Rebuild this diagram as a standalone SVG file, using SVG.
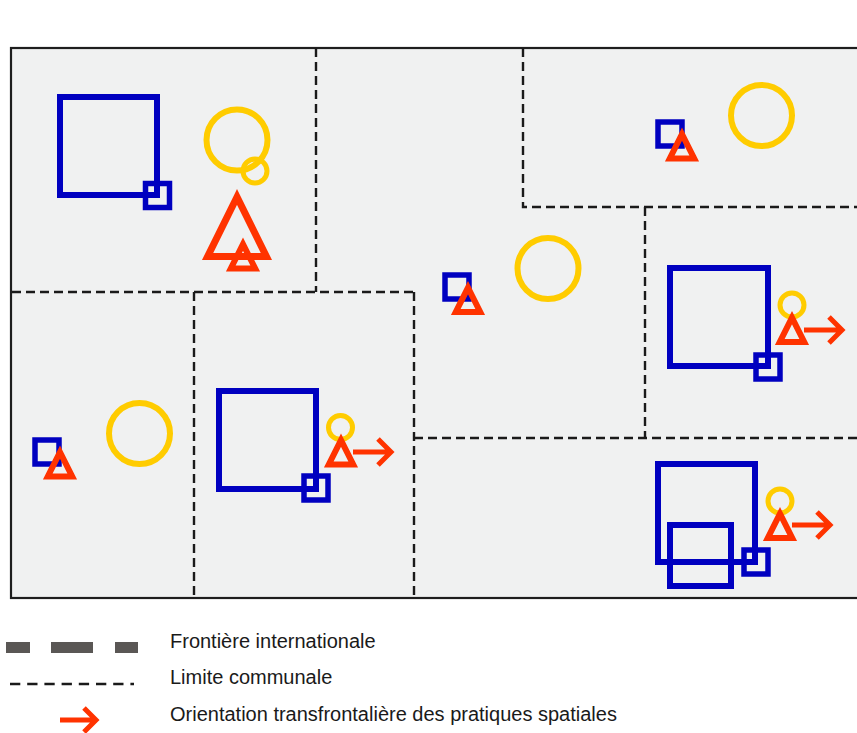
<svg xmlns="http://www.w3.org/2000/svg" width="857" height="733" viewBox="0 0 857 733">
<style>
.bg{fill:#ffffff}
.frame{fill:#f0f1f1;stroke:#1e1e1e;stroke-width:2.2}
.lim{fill:none;stroke:#1a1a1a;stroke-width:2.4;stroke-dasharray:9 5}
.sqb{fill:none;stroke:#0000c0;stroke-width:6}
.sqs{fill:none;stroke:#0000c0;stroke-width:5.5}
.cb{fill:none;stroke:#ffcc00;stroke-width:6}
.cs{fill:none;stroke:#ffcc00;stroke-width:5}
.tri{fill:none;stroke:#ff3300;stroke-width:6;stroke-linejoin:miter}
.arr{fill:none;stroke:#ff3300;stroke-width:5;stroke-linejoin:miter;stroke-linecap:butt}
.txt{font-family:"Liberation Sans",Arial,sans-serif;font-size:20px;fill:#1a1a1a}
</style>
<defs>
<path id="tri" d="M0,6.7 L-12.2,31 L12.2,31 Z"/>
</defs>
<rect class="bg" x="0" y="0" width="857" height="733"/>
<g id="map">
<rect class="frame" x="11" y="48" width="870" height="550"/>
<g id="boundaries">
<path class="lim" d="M316,48 V292"/>
<path class="lim" d="M12,292 H414"/>
<path class="lim" d="M194,292 V598"/>
<path class="lim" d="M414,292 V598"/>
<path class="lim" d="M414,438 H857"/>
<path class="lim" d="M645,207 V438"/>
<path class="lim" d="M523,48 V207 H857"/>
</g>
</g>
<g id="commune-nw">
<rect class="sqb" x="60" y="97" width="97" height="98"/>
<rect class="sqs" x="145.5" y="183.5" width="24" height="24"/>
<circle class="cb" cx="237" cy="140" r="30.5"/>
<circle class="cs" cx="255" cy="171" r="12"/>
<path class="tri" style="stroke-width:7" d="M237,197 L207.6,256.5 L266.4,256.5 Z"/>
<use href="#tri" class="tri" x="243" y="237.5"/>
</g>
<g id="commune-ne">
<rect class="sqs" x="658" y="122" width="24" height="24"/>
<circle class="cb" cx="761.5" cy="115.5" r="30.5"/>
<use href="#tri" class="tri" x="682" y="127.5"/>
</g>
<g id="commune-center">
<rect class="sqs" x="445" y="275" width="24" height="24"/>
<circle class="cb" cx="548" cy="268.5" r="30.5"/>
<use href="#tri" class="tri" x="468" y="281"/>
</g>
<g id="commune-e">
<rect class="sqb" x="670" y="268" width="98" height="98"/>
<rect class="sqs" x="756" y="355" width="24" height="24"/>
<circle class="cs" cx="792" cy="305" r="12"/>
<use href="#tri" class="tri" x="792" y="311"/>
</g>
<g id="commune-se">
<rect class="sqb" x="658" y="464" width="97" height="98"/>
<rect class="sqb" x="670" y="525" width="61" height="61"/>
<rect class="sqs" x="744" y="550" width="24" height="24"/>
<circle class="cs" cx="780" cy="501" r="12"/>
<use href="#tri" class="tri" x="780" y="507"/>
</g>
<g id="commune-sw">
<rect class="sqs" x="35" y="440" width="24" height="24"/>
<circle class="cb" cx="139.5" cy="433.5" r="30.5"/>
<use href="#tri" class="tri" x="60" y="445.5"/>
</g>
<g id="commune-s">
<rect class="sqb" x="219" y="391" width="97" height="98"/>
<rect class="sqs" x="304" y="476" width="24" height="24"/>
<circle class="cs" cx="340.5" cy="427.5" r="12"/>
<use href="#tri" class="tri" x="341" y="433.5"/>
</g>
<g id="connectors">
<path class="arr" d="M353,452 H390 M378,439 L391,452 L378,465"/>
<path class="arr" d="M804,330 H841 M829,317 L842,330 L829,343"/>
<path class="arr" d="M792,525 H829 M817,512 L830,525 L817,538"/>
</g>
<g id="legend">
<line x1="6" y1="647.5" x2="138" y2="647.5" stroke="#5a5755" stroke-width="11" stroke-dasharray="24 21 42 22"/>
<line x1="10" y1="684" x2="134" y2="684" stroke="#1a1a1a" stroke-width="2.4" stroke-dasharray="10.3 6.9"/>
<path class="arr" d="M60,720 H96 M84,708 L96,720 L84,732"/>
<text class="txt" x="170" y="648">Frontière internationale</text>
<text class="txt" x="170" y="684">Limite communale</text>
<text class="txt" x="170" y="721">Orientation transfrontalière des pratiques spatiales</text>
</g>
</svg>
